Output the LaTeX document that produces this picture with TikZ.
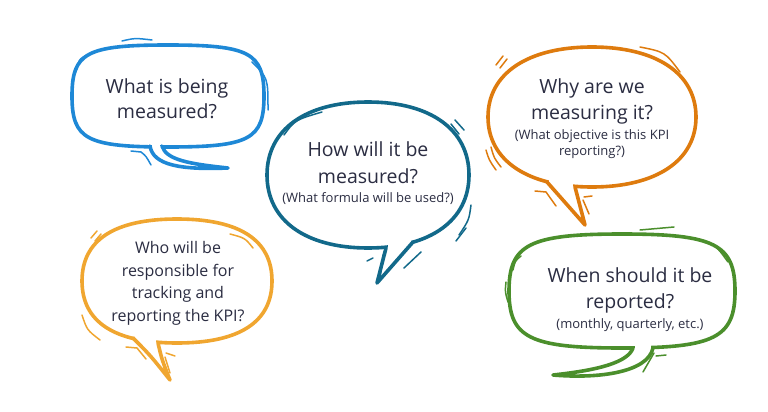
\documentclass[tikz,border=0pt]{standalone}
\usepackage{fontspec}
\setmainfont{Open Sans}
\definecolor{cblue}{HTML}{1E88D6}
\definecolor{cteal}{HTML}{12698A}
\definecolor{corange}{HTML}{DE7B0E}
\definecolor{cgreen}{HTML}{4B8F2C}
\definecolor{cyellow}{HTML}{F0A630}
\definecolor{ctext}{HTML}{2B2D42}
\newcommand{\sqbub}[6]{%
  \draw[#1] ({#2},{#3-#5}) .. controls ({#2+#6*#4},{#3-#5}) and ({#2+#4},{#3-#6*#5}) .. ({#2+#4},{#3})
   .. controls ({#2+#4},{#3+#6*#5}) and ({#2+#6*#4},{#3+#5}) .. ({#2},{#3+#5})
   .. controls ({#2-#6*#4},{#3+#5}) and ({#2-#4},{#3+#6*#5}) .. ({#2-#4},{#3})
   .. controls ({#2-#4},{#3-#6*#5}) and ({#2-#6*#4},{#3-#5}) .. cycle;}
\tikzset{
  outl/.style={draw=#1, line width=3.6pt, fill=white, line cap=round, line join=round},
  tailln/.style={draw=#1, line width=3.6pt, line cap=round, line join=round},
  acc/.style={draw=#1, line width=1.5pt, line cap=round, line join=round},
  bigtxt/.style={font=\fontsize{19.5}{23}\selectfont, text=ctext, anchor=base, inner sep=0pt},
  midtxt/.style={font=\fontsize{16}{20}\selectfont, text=ctext, anchor=base, inner sep=0pt},
  smalltxt/.style={font=\fontsize{13}{16}\selectfont, text=ctext, anchor=base, inner sep=0pt},
}
\begin{document}
\begin{tikzpicture}[x=1pt,y=-1pt]
\useasboundingbox (0,0) rectangle (768,412);

% ---------- blue bubble ----------
\sqbub{outl=cblue}{168}{96}{96}{51}{0.85}
\fill[white] (152,140) rectangle (160,153);
\draw[tailln=cblue, fill=white] (150,146) .. controls (153,165) and (180,170) .. (228,168)
  .. controls (190,164) and (166,160) .. (162,146);
\draw[acc=cblue] (122,41) .. controls (135,38) .. (152,40);
\draw[acc=cblue] (76,72) .. controls (79,58) .. (95,52);
\draw[acc=cblue] (252,62) .. controls (268,78) .. (268,110);
\draw[acc=cblue] (131,151) -- (141,152) .. controls (146,156) .. (151,165);
\node[bigtxt] (b1) at (167,93) {What is being};
\node[bigtxt] (b2) at (167,118) {measured?};

% ---------- yellow bubble ----------
\sqbub{outl=cyellow}{177}{281}{95}{62}{0.66}
\fill[white] (135,332) rectangle (156,349);
\draw[tailln=cyellow, fill=white] (133,338) .. controls (150,355) .. (170,380)
  .. controls (162,360) .. (158,343);
\draw[acc=cyellow] (91,238) -- (97,231);
\draw[acc=cyellow] (95,241) -- (101,234);
\draw[acc=cyellow] (230,234) .. controls (245,238) .. (253,248);
\draw[acc=cyellow] (82,315) .. controls (87,330) .. (100,340);
\draw[acc=cyellow] (126,347) -- (137,348) -- (146,359);
\draw[acc=cyellow] (166,353) -- (175,356);
\draw[acc=cyellow] (165,357) -- (170,373);
\node[midtxt] (y1) at (178,253) {Who will be};
\node[midtxt] (y2) at (178,276) {responsible for};
\node[midtxt] (y3) at (178,298) {tracking and};
\node[midtxt] (y4) at (178,321) {reporting the KPI?};

% ---------- teal bubble ----------
\sqbub{outl=cteal}{368}{175}{101}{73}{0.62}
\fill[white] (388,236) rectangle (411,253);
\draw[tailln=cteal, fill=white] (386,248) -- (377,283) .. controls (395,262) .. (413,242);
\draw[acc=cteal] (284,135) .. controls (295,120) .. (322,112);
\draw[acc=cteal] (451,124) -- (459,134);
\draw[acc=cteal] (455,120) -- (464,130);
\draw[acc=cteal] (471,205) .. controls (469,220) .. (459,235);
\draw[acc=cteal] (466,228) -- (456,241);
\draw[acc=cteal] (367,261) -- (373,258);
\draw[acc=cteal] (383,255) -- (380,278);
\draw[acc=cteal] (421,252) -- (404,268);
\node[bigtxt] (t1) at (368,156) {How will it be};
\node[bigtxt] (t2) at (368,183) {measured?};
\node[smalltxt] (t3) at (368,202) {(What formula will be used?)};

% ---------- orange bubble ----------
\sqbub{outl=corange}{592}{117}{104}{70}{0.62}
\fill[white] (549,176) rectangle (573,192);
\draw[tailln=corange, fill=white] (547,182) -- (585,225) -- (575,187);
\draw[acc=corange] (496,65) -- (503,56);
\draw[acc=corange] (500,68) -- (507,59);
\draw[acc=corange] (640,47) .. controls (665,52) .. (680,72);
\draw[acc=corange] (486,150) .. controls (489,160) .. (496,170);
\draw[acc=corange] (491,147) .. controls (494,158) .. (501,167);
\draw[acc=corange] (535,191) -- (546,192) -- (556,206);
\draw[acc=corange] (584,197) -- (592,196);
\draw[acc=corange] (583,200) -- (589,214);
\node[bigtxt] (o1) at (592,93) {Why are we};
\node[bigtxt] (o2) at (592,119) {measuring it?};
\node[smalltxt] (o3) at (592,139) {(What objective is this KPI};
\node[smalltxt] (o4) at (592,155) {reporting?)};

% ---------- green bubble ----------
\sqbub{outl=cgreen}{622}{291}{113}{57}{0.82}
\fill[white] (635,342) rectangle (651,355);
\draw[tailln=cgreen, fill=white] (653,348) .. controls (648,372) and (600,379) .. (553,375)
  .. controls (600,370) and (628,362) .. (633,348);
\draw[acc=cgreen] (640,230) -- (674,227);
\draw[acc=cgreen] (695,239) .. controls (715,244) .. (728,262);
\draw[acc=cgreen] (521,256) .. controls (515,261) .. (513,270);
\draw[acc=cgreen] (506,282) .. controls (505,292) .. (508,302);
\draw[acc=cgreen] (656,356) -- (666,355);
\draw[acc=cgreen] (643,372) -- (654,353);
\node[bigtxt] (g1) at (630,282) {When should it be};
\node[bigtxt] (g2) at (630,308) {reported?};
\node[smalltxt] (g3) at (630,328) {(monthly, quarterly, etc.)};
\end{tikzpicture}
\end{document}
